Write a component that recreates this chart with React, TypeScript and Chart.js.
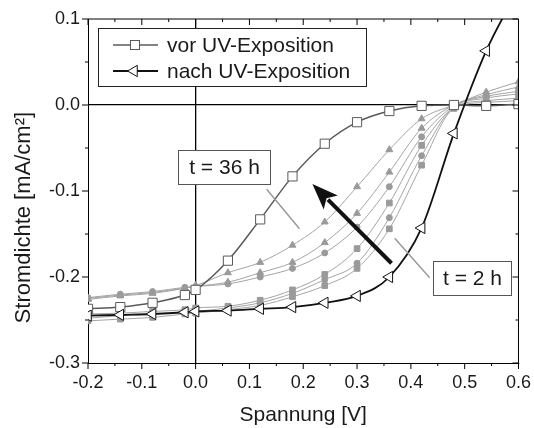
import React, { useEffect, useRef } from "react";
import { Chart, registerables } from "chart.js";

Chart.register(...registerables);

// ---- data ----
const voltage = [-0.2, -0.14, -0.08, -0.02, 0, 0.06, 0.12, 0.18, 0.24, 0.3, 0.36, 0.42, 0.48, 0.54, 0.6];

const vorUV = [-0.237, -0.235, -0.23, -0.221, -0.215, -0.181, -0.133, -0.083, -0.045, -0.02, -0.007, -0.001, 0.0, -0.001, 0.001];
const nachUV = [-0.245, -0.244, -0.243, -0.241, -0.24, -0.239, -0.237, -0.235, -0.23, -0.222, -0.2, -0.143, -0.033, 0.063, 0.135];

// intermediate exposure times (t = 36 h ... t = 2 h)
const t36h = [-0.226, -0.222, -0.219, -0.213, -0.21, -0.195, -0.183, -0.163, -0.136, -0.095, -0.052, -0.016, 0.0, 0.015, 0.027];
const tB = [-0.225, -0.221, -0.218, -0.213, -0.211, -0.206, -0.195, -0.183, -0.16, -0.126, -0.078, -0.027, 0.0, 0.012, 0.021];
const tC = [-0.224, -0.22, -0.217, -0.212, -0.211, -0.208, -0.2, -0.19, -0.172, -0.142, -0.095, -0.037, -0.001, 0.01, 0.016];
const tD = [-0.243, -0.242, -0.24, -0.238, -0.236, -0.234, -0.227, -0.215, -0.197, -0.167, -0.114, -0.047, -0.002, 0.008, 0.013];
const tE = [-0.248, -0.245, -0.243, -0.241, -0.24, -0.236, -0.23, -0.219, -0.203, -0.184, -0.131, -0.059, -0.003, 0.005, 0.008];
const t2h = [-0.251, -0.249, -0.247, -0.243, -0.242, -0.238, -0.233, -0.223, -0.21, -0.19, -0.144, -0.07, -0.004, 0.003, 0.005];

const grayMarkers = ["triangle", "triangle", "circle", "rect", "circle", "rect"];
const graySeries = [t36h, tB, tC, tD, tE, t2h];

const legendLabels = ["vor UV-Exposition", "nach UV-Exposition"];
const xTitle = "Spannung [V]";
const yTitle = "Stromdichte [mA/cm²]";
const label36 = "t = 36 h";
const label2 = "t = 2 h";

const FONT = '"Liberation Sans", Arial, Helvetica, sans-serif';
const TEXT = "#1a1a1a";

function drawOpenSquare(ctx: CanvasRenderingContext2D, cx: number, cy: number, s: number, color: string) {
  ctx.fillStyle = "#fff";
  ctx.strokeStyle = color;
  ctx.lineWidth = 1;
  ctx.fillRect(cx - s / 2, cy - s / 2, s, s);
  ctx.strokeRect(cx - s / 2, cy - s / 2, s, s);
}

function drawOpenLeftTri(ctx: CanvasRenderingContext2D, cx: number, cy: number, r: number, color: string) {
  ctx.beginPath();
  for (let k = 0; k < 3; k++) {
    const a = Math.PI + (k * 2 * Math.PI) / 3;
    const px = cx + Math.cos(a) * r;
    const py = cy + Math.sin(a) * r;
    if (k === 0) ctx.moveTo(px, py);
    else ctx.lineTo(px, py);
  }
  ctx.closePath();
  ctx.fillStyle = "#fff";
  ctx.fill();
  ctx.strokeStyle = color;
  ctx.lineWidth = 1;
  ctx.stroke();
}

const overlayPlugin = {
  id: "overlay",
  afterDraw(chart: any) {
    const { ctx, chartArea: ca, scales } = chart;
    const x = scales.x;
    const y = scales.y;
    ctx.save();

    // frame
    ctx.strokeStyle = "#000";
    ctx.lineWidth = 1;
    ctx.beginPath();
    ctx.moveTo(ca.left, ca.top);
    ctx.lineTo(ca.right, ca.top);
    ctx.lineTo(ca.right, ca.bottom);
    ctx.stroke();

    // ticks (major + minor)
    ctx.beginPath();
    for (let i = 0; i <= 16; i++) {
      const v = -0.2 + i * 0.05;
      const px = x.getPixelForValue(v);
      const len = i % 2 === 0 ? 6 : 3;
      ctx.moveTo(px, ca.bottom);
      ctx.lineTo(px, ca.bottom + len);
      ctx.moveTo(px, ca.top);
      ctx.lineTo(px, ca.top + len);
    }
    for (let i = 0; i <= 8; i++) {
      const v = -0.3 + i * 0.05;
      const py = y.getPixelForValue(v);
      const len = i % 2 === 0 ? 6 : 3;
      ctx.moveTo(ca.left - len, py);
      ctx.lineTo(ca.left, py);
      ctx.moveTo(ca.right - len, py);
      ctx.lineTo(ca.right, py);
    }
    ctx.stroke();

    // axis titles
    ctx.fillStyle = TEXT;
    ctx.textAlign = "center";
    ctx.textBaseline = "middle";
    ctx.font = `21px ${FONT}`;
    ctx.fillText(xTitle, (ca.left + ca.right) / 2, ca.bottom + 52);
    ctx.save();
    ctx.translate(24, y.getPixelForValue(-0.131));
    ctx.rotate(-Math.PI / 2);
    ctx.font = `22px ${FONT}`;
    ctx.fillText(yTitle, 0, 0);
    ctx.restore();

    // legend
    const lx = ca.left + 10;
    const ly = ca.top + 9;
    const lw = 268;
    const lh = 58;
    ctx.fillStyle = "#fff";
    ctx.fillRect(lx, ly, lw, lh);
    ctx.strokeStyle = "#222";
    ctx.lineWidth = 1;
    ctx.strokeRect(lx + 0.5, ly + 0.5, lw, lh);
    const rows = [ly + 17, ly + 43];
    // row 1
    ctx.strokeStyle = "#5a5a5a";
    ctx.lineWidth = 1.5;
    ctx.beginPath();
    ctx.moveTo(lx + 15, rows[0]);
    ctx.lineTo(lx + 60, rows[0]);
    ctx.stroke();
    drawOpenSquare(ctx, lx + 37, rows[0], 9, "#5a5a5a");
    // row 2
    ctx.strokeStyle = "#111";
    ctx.lineWidth = 1.8;
    ctx.beginPath();
    ctx.moveTo(lx + 15, rows[1]);
    ctx.lineTo(lx + 60, rows[1]);
    ctx.stroke();
    drawOpenLeftTri(ctx, lx + 36, rows[1], 6.5, "#111");
    ctx.fillStyle = TEXT;
    ctx.textAlign = "left";
    ctx.font = `21px ${FONT}`;
    ctx.fillText(legendLabels[0], lx + 69, rows[0] + 1);
    ctx.fillText(legendLabels[1], lx + 69, rows[1] + 1);

    // leader lines
    ctx.strokeStyle = "#9a9a9a";
    ctx.lineWidth = 1.5;
    ctx.beginPath();
    ctx.moveTo(x.getPixelForValue(0.132), y.getPixelForValue(-0.098));
    ctx.lineTo(x.getPixelForValue(0.193), y.getPixelForValue(-0.144));
    ctx.moveTo(x.getPixelForValue(0.37), y.getPixelForValue(-0.155));
    ctx.lineTo(x.getPixelForValue(0.435), y.getPixelForValue(-0.201));
    ctx.stroke();

    // annotation boxes
    const box = (x0: number, x1: number, y0: number, y1: number, txt: string) => {
      const l = Math.round(x.getPixelForValue(x0)) + 0.5;
      const r = Math.round(x.getPixelForValue(x1)) + 0.5;
      const t = Math.round(y.getPixelForValue(y0)) + 0.5;
      const b = Math.round(y.getPixelForValue(y1)) + 0.5;
      ctx.fillStyle = "#fff";
      ctx.fillRect(l, t, r - l, b - t);
      ctx.strokeStyle = "#555";
      ctx.lineWidth = 1;
      ctx.strokeRect(l, t, r - l, b - t);
      ctx.fillStyle = TEXT;
      ctx.textAlign = "center";
      ctx.textBaseline = "middle";
      ctx.font = `21px ${FONT}`;
      ctx.fillText(txt, (l + r) / 2, (t + b) / 2 + 1);
    };
    box(-0.033, 0.139, -0.052, -0.092, label36);
    box(0.442, 0.587, -0.181, -0.221, label2);

    // arrow
    const tx = x.getPixelForValue(0.364);
    const ty = y.getPixelForValue(-0.184);
    const hx = x.getPixelForValue(0.217);
    const hy = y.getPixelForValue(-0.092);
    const ang = Math.atan2(hy - ty, hx - tx);
    const headLen = 26;
    const headW = 10;
    const bx = hx - Math.cos(ang) * headLen;
    const by = hy - Math.sin(ang) * headLen;
    ctx.strokeStyle = "#111";
    ctx.lineWidth = 4;
    ctx.beginPath();
    ctx.moveTo(tx, ty);
    ctx.lineTo(bx + Math.cos(ang) * 4, by + Math.sin(ang) * 4);
    ctx.stroke();
    ctx.fillStyle = "#111";
    ctx.beginPath();
    ctx.moveTo(hx, hy);
    ctx.lineTo(bx + Math.sin(ang) * headW, by - Math.cos(ang) * headW);
    ctx.lineTo(bx + Math.cos(ang) * 6, by + Math.sin(ang) * 6);
    ctx.lineTo(bx - Math.sin(ang) * headW, by + Math.cos(ang) * headW);
    ctx.closePath();
    ctx.fill();

    ctx.restore();
  },
};

export default function App() {
  const ref = useRef<HTMLCanvasElement | null>(null);

  useEffect(() => {
    if (!ref.current) return;
    const pts = (ys: number[]) => voltage.map((v, i) => ({ x: v, y: ys[i] }));

    const grayDatasets = graySeries.map((ys, i) => {
      const style = grayMarkers[i];
      return {
        data: pts(ys),
        borderColor: "#a4a4a4",
        borderWidth: 1,
        pointStyle: style,
        pointRadius: style === "circle" ? 3 : 4,
        pointBackgroundColor: "#9a9a9a",
        pointBorderColor: "#9a9a9a",
        pointBorderWidth: 1,
        cubicInterpolationMode: "monotone",
        clip: 0,
      };
    });

    const chart = new Chart(ref.current, {
      type: "line",
      data: {
        datasets: [
          {
            label: legendLabels[1],
            data: pts(nachUV),
            borderColor: "#111",
            borderWidth: 1.8,
            pointStyle: "triangle",
            rotation: -90,
            pointRadius: 6.5,
            pointBackgroundColor: "#fff",
            pointBorderColor: "#111",
            pointBorderWidth: 1,
            cubicInterpolationMode: "monotone",
            clip: 0,
          } as any,
          {
            label: legendLabels[0],
            data: pts(vorUV),
            borderColor: "#5a5a5a",
            borderWidth: 1.5,
            pointStyle: "rect",
            pointRadius: 6.5,
            pointBackgroundColor: "#fff",
            pointBorderColor: "#5a5a5a",
            pointBorderWidth: 1,
            cubicInterpolationMode: "monotone",
            clip: 0,
          } as any,
          ...(grayDatasets as any[]),
        ],
      },
      options: {
        animation: false,
        responsive: true,
        maintainAspectRatio: false,
        layout: { padding: { top: 19, right: 15, left: 0, bottom: 0 } },
        plugins: { legend: { display: false }, tooltip: { enabled: false } },
        scales: {
          x: {
            type: "linear",
            min: -0.2,
            max: 0.6,
            afterFit: (s: any) => {
              s.height = 65;
            },
            border: { display: true, color: "#000", width: 1 },
            grid: {
              drawOnChartArea: true,
              drawTicks: true,
              tickLength: 6,
              tickColor: "rgba(0,0,0,0)",
              lineWidth: 1.3,
              color: (c: any) => (c.tick && Math.abs(c.tick.value) < 1e-9 ? "#000" : "rgba(0,0,0,0)"),
            },
            ticks: {
              stepSize: 0.1,
              padding: 3,
              maxRotation: 0,
              color: TEXT,
              font: { family: FONT, size: 18 },
              callback: (v: any) => Number(v).toFixed(1),
            },
          },
          y: {
            type: "linear",
            min: -0.3,
            max: 0.1,
            afterFit: (s: any) => {
              s.width = 88;
            },
            border: { display: true, color: "#000", width: 1 },
            grid: {
              drawOnChartArea: true,
              drawTicks: true,
              tickLength: 6,
              tickColor: "rgba(0,0,0,0)",
              lineWidth: 1.3,
              color: (c: any) => (c.tick && Math.abs(c.tick.value) < 1e-9 ? "#000" : "rgba(0,0,0,0)"),
            },
            ticks: {
              stepSize: 0.1,
              padding: 2,
              color: TEXT,
              font: { family: FONT, size: 18 },
              callback: (v: any) => Number(v).toFixed(1),
            },
          },
        },
      },
      plugins: [overlayPlugin],
    } as any);

    return () => chart.destroy();
  }, []);

  return (
    <div style={{ position: "fixed", left: 0, top: 0, width: 534, height: 428, background: "#fff" }}>
      <canvas ref={ref} />
    </div>
  );
}
